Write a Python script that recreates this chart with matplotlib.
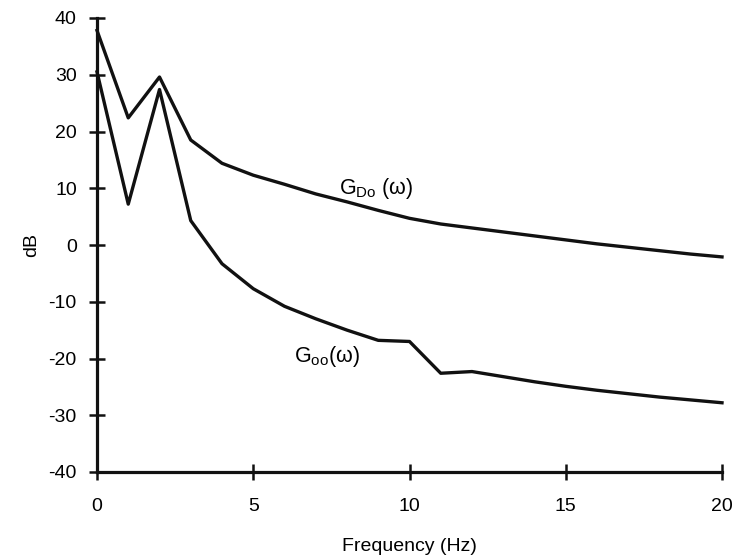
import matplotlib
matplotlib.use("Agg")
import matplotlib.pyplot as plt

plt.rcParams['font.family'] = ['Liberation Sans', 'DejaVu Sans']
plt.rcParams['mathtext.fontset'] = 'custom'
plt.rcParams['mathtext.rm'] = 'Liberation Sans'
plt.rcParams['mathtext.it'] = 'Liberation Sans'
plt.rcParams['axes.unicode_minus'] = False

freq = list(range(0, 21))
g_do = [37.8, 22.4, 29.6, 18.5, 14.4, 12.3, 10.7, 9.0, 7.6, 6.1, 4.7,
        3.7, 3.0, 2.3, 1.6, 0.9, 0.2, -0.4, -1.0, -1.6, -2.1]
g_oo = [30.5, 7.2, 27.4, 4.3, -3.3, -7.7, -10.8, -13.0, -15.0, -16.8, -17.0,
        -22.6, -22.3, -23.2, -24.1, -24.9, -25.6, -26.2, -26.8, -27.3, -27.8]
x_ticks = [0, 5, 10, 15, 20]
y_ticks = [-40, -30, -20, -10, 0, 10, 20, 30, 40]

fig = plt.figure(figsize=(7.36, 5.6), dpi=100)
ax = fig.add_axes([97/736, 88/560, 625/736, 454/560])

ax.plot(freq, g_do, color='#111111', lw=2.4, clip_on=False)
ax.plot(freq, g_oo, color='#111111', lw=2.4, clip_on=False)

ax.set_xlim(0, 20)
ax.set_ylim(-40, 40)
ax.set_xticks(x_ticks)
ax.set_yticks(y_ticks)
for s in ['top', 'right']:
    ax.spines[s].set_visible(False)
for s in ['left', 'bottom']:
    ax.spines[s].set_linewidth(2.3)
    ax.spines[s].set_color('#111111')
ax.tick_params(direction='inout', length=11, width=1.8, labelsize=14, color='#111111')
ax.tick_params(axis='y', pad=9)
ax.tick_params(axis='x', pad=13)

ax.set_xlabel('Frequency (Hz)', fontsize=14, labelpad=17)
ax.set_ylabel('dB', fontsize=14, labelpad=6)

ax.text(7.75, 10.0, r'$\mathrm{G_{Do}\ (\omega)}$', fontsize=15.5, ha='left', va='center')
ax.text(6.3, -19.6, r'$\mathrm{G_{oo}(\omega)}$', fontsize=15.5, ha='left', va='center')

fig.savefig('out.png', dpi=100)
